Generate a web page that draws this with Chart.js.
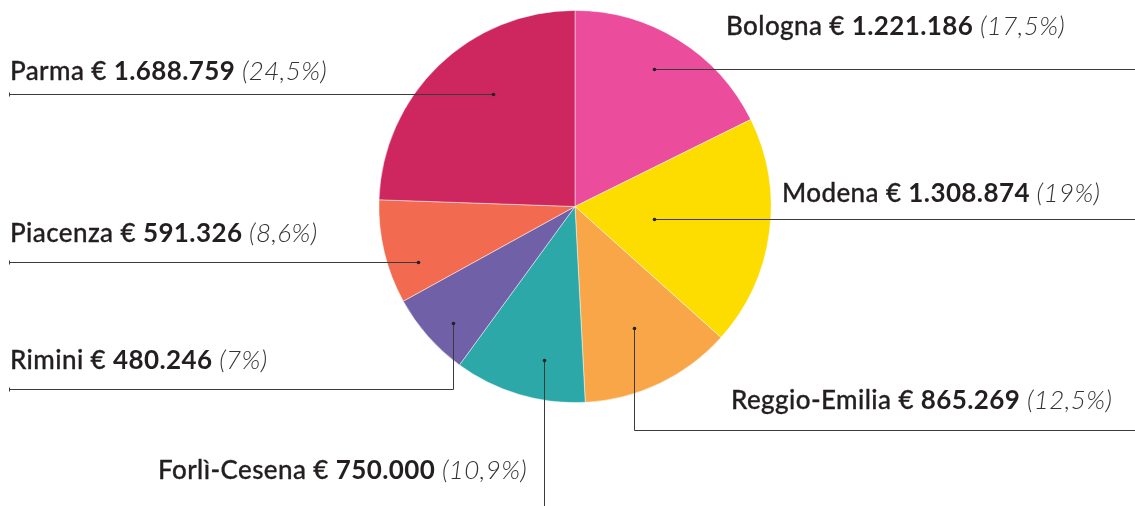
<!DOCTYPE html>
<html>
<head>
<meta charset="utf-8">
<script src="https://cdn.jsdelivr.net/npm/chart.js@4/dist/chart.umd.min.js"></script>
<style>
html,body{margin:0;padding:0;background:#fff;}
#wrap{width:1135px;height:506px;position:relative;}
</style>
</head>
<body>
<div id="wrap"><canvas id="c"></canvas></div>
<script>
const categories = ['Bologna','Modena','Reggio-Emilia','Forlì-Cesena','Rimini','Piacenza','Parma'];
const amounts = [1221186,1308874,865269,750000,480246,591326,1688759];
const amountLabels = ['1.221.186','1.308.874','865.269','750.000','480.246','591.326','1.688.759'];
const percentLabels = ['17,5%','19%','12,5%','10,9%','7%','8,6%','24,5%'];
const sliceColors = ['#EC4C9C','#FDDC00','#F8A647','#2CA8A8','#6F60A8','#F26A4F','#CE265E'];

// leader-line styling: dot placement within slice (fraction of angle, fraction of radius) and routing
const leaders = [
  {f:0.47, r:0.81, route:'right', tx:726, ty:35},
  {f:0.52, r:0.41, route:'right', tx:782, ty:202},
  {f:0.49, r:0.69, route:'downRight', turnY:430, tx:731, ty:409},
  {f:0.37, r:0.80, route:'down', tx:158, ty:479},
  {f:0.41, r:0.86, route:'downLeft', turnY:389, tx:10, ty:369},
  {f:0.31, r:0.85, route:'left', tx:10, ty:242},
  {f:0.59, r:0.71, route:'left', tx:10, ty:80}
];

const FONT = 'Lato, "Open Sans", sans-serif';
const SIZE = 26;

const leaderPlugin = {
  id:'leaders',
  afterDatasetsDraw(chart){
    const ctx = chart.ctx;
    const W = chart.width, H = chart.height;
    const meta = chart.getDatasetMeta(0);
    ctx.save();
    meta.data.forEach((arc,i)=>{
      const p = arc.getProps(['x','y','startAngle','endAngle','outerRadius'], true);
      const L = leaders[i];
      const a = p.startAngle + L.f*(p.endAngle-p.startAngle);
      const px = Math.round(p.x + Math.cos(a)*p.outerRadius*L.r) + 0.5;
      const py = Math.round(p.y + Math.sin(a)*p.outerRadius*L.r) + 0.5;
      ctx.strokeStyle = '#3b3b3b';
      ctx.lineWidth = 1;
      ctx.beginPath();
      ctx.moveTo(px,py);
      let endX=null, endY=null;
      if(L.route==='right'){ ctx.lineTo(W,py); }
      else if(L.route==='left'){ ctx.lineTo(9.5,py); endX=9.5; endY=py; }
      else if(L.route==='down'){ ctx.lineTo(px,H); }
      else if(L.route==='downRight'){ ctx.lineTo(px,L.turnY+0.5); ctx.lineTo(W,L.turnY+0.5); }
      else if(L.route==='downLeft'){ ctx.lineTo(px,L.turnY+0.5); ctx.lineTo(9.5,L.turnY+0.5); endX=9.5; endY=L.turnY+0.5; }
      ctx.stroke();
      if(endX!==null){
        ctx.beginPath(); ctx.moveTo(endX,endY-2); ctx.lineTo(endX,endY+2); ctx.stroke();
      }
      ctx.fillStyle = '#222';
      ctx.beginPath(); ctx.arc(px,py,1.8,0,Math.PI*2); ctx.fill();

      // text
      ctx.textBaseline = 'alphabetic';
      ctx.textAlign = 'left';
      ctx.letterSpacing = '0.4px';
      let x = L.tx;
      ctx.fillStyle = '#231f20';
      ctx.strokeStyle = '#231f20';
      ctx.lineWidth = 0.3;
      ctx.lineJoin = 'round';
      ctx.font = `500 ${SIZE}px ${FONT}`;
      const t1 = categories[i] + ' € ';
      ctx.fillText(t1, x, L.ty); ctx.strokeText(t1, x, L.ty); x += ctx.measureText(t1).width;
      ctx.font = `700 ${SIZE}px ${FONT}`;
      const t2 = amountLabels[i] + ' ';
      ctx.fillText(t2, x, L.ty); x += ctx.measureText(t2).width;
      ctx.font = `italic 300 ${SIZE}px ${FONT}`;
      ctx.fillStyle = '#333';
      ctx.fillText('(' + percentLabels[i] + ')', x, L.ty);
    });
    ctx.restore();
  }
};

new Chart(document.getElementById('c'), {
  type:'pie',
  data:{
    labels: categories,
    datasets:[{
      data: amounts,
      backgroundColor: sliceColors,
      borderColor: 'rgba(255,255,255,0.6)',
      borderWidth: 0.8,
      hoverOffset: 0
    }]
  },
  options:{
    responsive:true,
    maintainAspectRatio:false,
    animation:false,
    layout:{padding:{top:10,bottom:103,left:378.5,right:363.5}},
    plugins:{legend:{display:false}, tooltip:{enabled:false}}
  },
  plugins:[leaderPlugin]
});
</script>
</body>
</html>
